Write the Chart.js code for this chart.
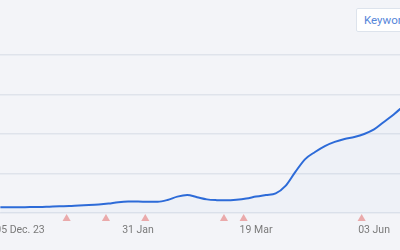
<!DOCTYPE html>
<html>
<head>
<meta charset="utf-8">
<script src="https://cdn.jsdelivr.net/npm/chart.js@4"></script>
<style>
  html, body { margin: 0; padding: 0; background: #f3f4f8; overflow: hidden; }
  .wrap { position: relative; width: 400px; height: 250px; }
  .keyword {
    position: absolute; left: 356px; top: 8px; height: 24px; width: 70px;
    background: #fff; border: 1px solid #dde3ec; border-radius: 2px;
    font: 11.5px Roboto, sans-serif; color: #5686d9; line-height: 22px;
    padding-left: 7px; box-sizing: border-box; white-space: nowrap;
  }
</style>
</head>
<body>
<div class="wrap">
  <canvas id="trendCanvas" width="400" height="250"></canvas>
  <div class="keyword">Keyword</div>
</div>
<script>
// positions along the x axis (one step = one label slot / 6)
const positions = [-1, -0.5, 0, 0.5, 1, 1.5, 2, 2.5, 3, 3.5, 4, 4.5, 5, 5.5, 6, 6.5, 7, 7.5, 8, 8.5,
  9, 9.5, 10, 10.5, 11, 11.5, 12, 12.5, 13, 13.5, 14, 14.5, 15, 15.5, 16, 16.5, 17, 17.5, 18, 18.5, 19, 19.5];
const interest = [2.9, 2.9, 2.9, 3.0, 3.0, 3.2, 3.4, 3.5, 3.8, 4.0, 4.3, 4.8, 5.5, 5.8, 5.8, 5.7, 5.7, 6.6, 8.3, 9.1,
  8.0, 6.9, 6.5, 6.4, 6.7, 7.3, 8.3, 9.1, 9.9, 13.7, 20.8, 27.3, 30.9, 33.9, 36.0, 37.5, 38.5, 40.0, 42.3, 46.1, 49.9, 54.2];

const tickLabels = ['05 Dec. 23', '31 Jan', '19 Mar', '03 Jun'];
const tickPositions = [0, 6, 12, 18];

// event markers under the axis
const eventPositions = [2.37, 4.37, 6.37, 10.37, 11.37, 17.37];

const ctx = document.getElementById('trendCanvas');

const trendChart = new Chart(ctx, {
  type: 'line',
  data: {
    datasets: [{
      data: positions.map((p, i) => ({ x: p, y: interest[i] })),
      borderColor: '#2d6bd8',
      borderWidth: 2,
      backgroundColor: 'rgba(45, 107, 216, 0.025)',
      fill: 'origin',
      pointRadius: 0,
      pointHoverRadius: 0,
      cubicInterpolationMode: 'monotone',
      order: 2
    }, {
      type: 'scatter',
      data: eventPositions.map(p => ({ x: p, y: -2.9 })),
      pointStyle: 'triangle',
      pointRadius: 4.7,
      pointHoverRadius: 12, // bigger margin so points below the area still draw
      pointBackgroundColor: '#eaaaab',
      pointBorderWidth: 0,
      clip: false,
      order: 1
    }]
  },
  options: {
    responsive: false,
    animation: false,
    events: [],
    layout: { autoPadding: false, padding: { top: 55, left: 0, right: 0, bottom: 0 } },
    plugins: { legend: { display: false }, tooltip: { enabled: false } },
    scales: {
      x: {
        type: 'linear',
        min: -1.017,
        max: 19.32,
        grid: { display: false, drawTicks: false },
        border: { display: false },
        afterBuildTicks: scale => {
          scale.ticks = tickPositions.map(v => ({ value: v }));
        },
        afterFit: scale => {
          scale.height = 37;
          scale.paddingLeft = 0;
          scale.paddingRight = 0;
        },
        ticks: {
          padding: 11,
          maxRotation: 0,
          autoSkip: false,
          color: '#7a7a7a',
          font: { family: 'Roboto', size: 10.5 },
          callback: v => tickLabels[tickPositions.indexOf(v)]
        }
      },
      y: {
        min: 0,
        max: 80,
        ticks: { display: false, stepSize: 20 },
        grid: { color: '#dfe3eb', lineWidth: 1.5, drawTicks: false },
        border: { display: false },
        afterFit: scale => { scale.width = 0; }
      }
    }
  }
});
</script>
</body>
</html>
